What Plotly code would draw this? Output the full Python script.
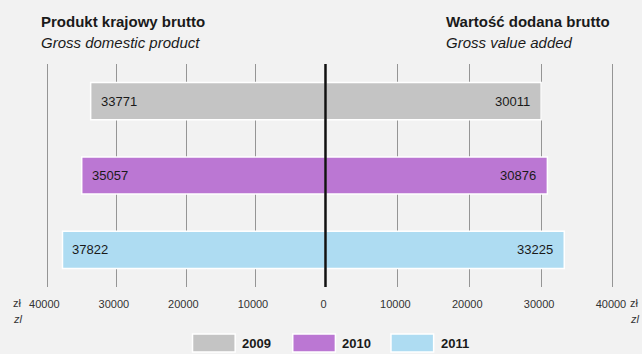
import plotly.graph_objects as go

# Data
years = ["2009", "2010", "2011"]
gdp = [33771, 35057, 37822]          # Produkt krajowy brutto (per capita, zł)
gva = [30011, 30876, 33225]          # Wartość dodana brutto (per capita, zł)
colors = ["#c4c4c4", "#bb77d3", "#aedcf2"]
left_ticks = [40000, 30000, 20000, 10000]
right_ticks = [0, 10000, 20000, 30000, 40000]

W, H = 642, 354
TOP, BOTTOM = 64, 67
XMAX = 42000
ZERO_PX = 323
LEFT_PX_PER_UNIT = 0.007008
RIGHT_PX_PER_UNIT = 0.007243

left_dom = [(ZERO_PX - XMAX * LEFT_PX_PER_UNIT) / W, ZERO_PX / W]
right_dom = [ZERO_PX / W, (ZERO_PX + XMAX * RIGHT_PX_PER_UNIT) / W]
plot_h = H - TOP - BOTTOM


def py(p):
    """pixel row -> paper y"""
    return (H - BOTTOM - p) / plot_h


def px(p):
    return p / W


FONT = "Liberation Sans, Arial, sans-serif"
TXT = "#1a1a1a"
GRID = "#959595"

rows = list(range(len(years)))  # one row per year, top to bottom

fig = go.Figure()

for i, yr in enumerate(years):
    fig.add_trace(go.Bar(
        x=[gdp[i]], y=[rows[i]], orientation="h", xaxis="x", yaxis="y",
        marker=dict(color=colors[i], line=dict(color="white", width=1.5)),
        width=0.5, showlegend=False, name=yr, hoverinfo="x",
    ))
    fig.add_trace(go.Bar(
        x=[gva[i]], y=[rows[i]], orientation="h", xaxis="x2", yaxis="y",
        marker=dict(color=colors[i], line=dict(color="white", width=1.5)),
        width=0.5, showlegend=False, name=yr, hoverinfo="x",
    ))

annotations = []
# value labels inside the bars, at their outer ends
for i, yr in enumerate(years):
    annotations.append(dict(
        x=gdp[i], y=rows[i], xref="x", yref="y", text=str(gdp[i]),
        xanchor="left", yanchor="middle", xshift=8, showarrow=False,
        font=dict(family=FONT, size=13, color=TXT)))
    annotations.append(dict(
        x=gva[i], y=rows[i], xref="x2", yref="y", text=str(gva[i]),
        xanchor="right", yanchor="middle", xshift=-9, showarrow=False,
        font=dict(family=FONT, size=13, color=TXT)))

# panel titles
annotations += [
    dict(x=px(34), y=py(21), xref="paper", yref="paper", xanchor="left", yanchor="middle",
         text="<b>Produkt krajowy brutto</b>", showarrow=False,
         font=dict(family=FONT, size=15, color=TXT)),
    dict(x=px(34), y=py(43), xref="paper", yref="paper", xanchor="left", yanchor="middle",
         text="<i>Gross domestic product</i>", showarrow=False,
         font=dict(family=FONT, size=15, color=TXT)),
    dict(x=px(442), y=py(21), xref="paper", yref="paper", xanchor="left", yanchor="middle",
         text="<b>Wartość dodana brutto</b>", showarrow=False,
         font=dict(family=FONT, size=15, color=TXT)),
    dict(x=px(442), y=py(43), xref="paper", yref="paper", xanchor="left", yanchor="middle",
         text="<i>Gross value added</i>", showarrow=False,
         font=dict(family=FONT, size=15, color=TXT)),
]

# unit labels
for xpos in (6, 628):
    annotations.append(dict(x=px(xpos), y=py(303), xref="paper", yref="paper",
                            xanchor="left", yanchor="middle", text="zł", showarrow=False,
                            font=dict(family=FONT, size=11, color="#333333")))
    annotations.append(dict(x=px(xpos), y=py(319), xref="paper", yref="paper",
                            xanchor="left", yanchor="middle", text="<i>zl</i>", showarrow=False,
                            font=dict(family=FONT, size=11, color="#333333")))

# legend
shapes = []
legend_x = [189, 290, 389]
for i, yr in enumerate(years):
    x0 = legend_x[i]
    shapes.append(dict(type="rect", xref="paper", yref="paper",
                       x0=px(x0), x1=px(x0 + 43), y0=py(352), y1=py(334),
                       fillcolor=colors[i], line=dict(color="white", width=1.5)))
    annotations.append(dict(x=px(x0 + 48), y=py(343), xref="paper", yref="paper",
                            xanchor="left", yanchor="middle", text=f"<b>{yr}</b>",
                            showarrow=False, font=dict(family=FONT, size=13, color=TXT)))

# central zero axis
shapes.append(dict(type="line", xref="paper", yref="paper", x0=px(ZERO_PX), x1=px(ZERO_PX),
                   y0=0, y1=1, line=dict(color="#111111", width=2.5), layer="above"))

axis_common = dict(showgrid=True, gridcolor=GRID, gridwidth=1.2, zeroline=False,
                   showline=False, ticks="", tickfont=dict(family=FONT, size=11, color="#333333"),
                   tickmode="array", ticklabelstandoff=9, fixedrange=True)

fig.update_layout(
    width=W, height=H,
    margin=dict(l=0, r=0, t=TOP, b=BOTTOM),
    paper_bgcolor="#f2f2f2", plot_bgcolor="#f2f2f2",
    barmode="overlay",
    # left panel runs right-to-left, so a positive label shift moves labels leftwards
    xaxis=dict(domain=left_dom, range=[XMAX, 0], anchor="y", ticklabelshift=3,
               tickvals=left_ticks, ticktext=[str(v) for v in left_ticks], **axis_common),
    xaxis2=dict(domain=right_dom, range=[0, XMAX], anchor="y", ticklabelshift=-2,
                tickvals=right_ticks, ticktext=[str(v) for v in right_ticks], **axis_common),
    yaxis=dict(range=[len(years) - 0.5, -0.5], showgrid=False, showticklabels=False,
               zeroline=False, showline=False, fixedrange=True, domain=[0, 1]),
    annotations=annotations,
    shapes=shapes,
    showlegend=False,
)

fig.write_html("out.html")
